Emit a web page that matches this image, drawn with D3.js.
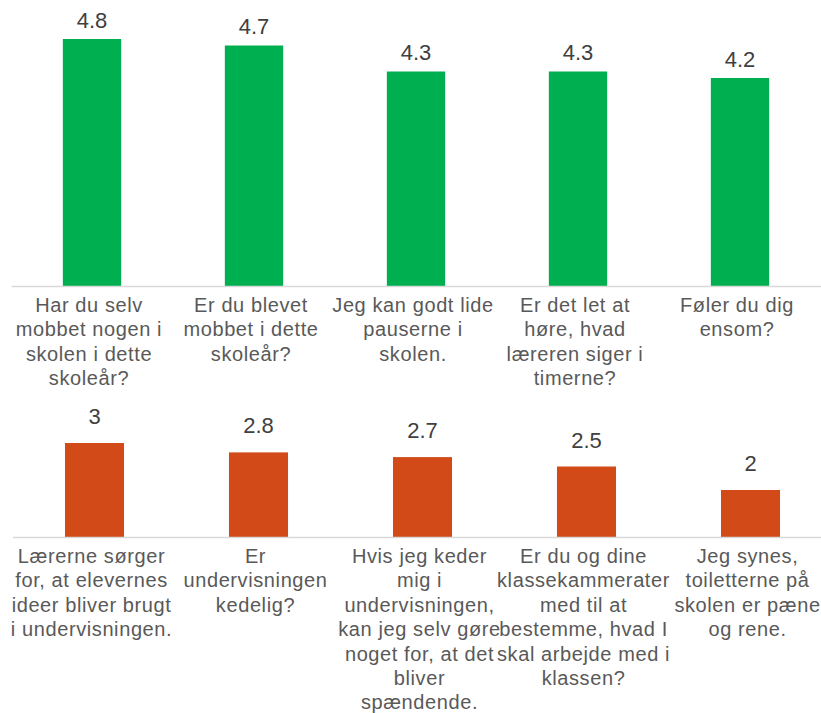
<!DOCTYPE html>
<html>
<head>
<meta charset="utf-8">
<script src="https://cdn.jsdelivr.net/npm/d3@7/dist/d3.min.js"></script>
<style>
  html, body { margin: 0; padding: 0; background: #fff; overflow: hidden; }
  svg { display: block; }
</style>
</head>
<body>
<div id="chart"></div>
<script>
(function(){
    // data
    var topCategories = [
        'Har du selv\nmobbet nogen i\nskolen i dette\nskoleår?',
        'Er du blevet\nmobbet i dette\nskoleår?',
        'Jeg kan godt lide\npauserne i\nskolen.',
        'Er det let at\nhøre, hvad\nlæreren siger i\ntimerne?',
        'Føler du dig\nensom?'
    ];
    var topValues = [4.8, 4.7, 4.3, 4.3, 4.2];

    var bottomCategories = [
        'Lærerne sørger\nfor, at elevernes\nideer bliver brugt\ni undervisningen.',
        'Er\nundervisningen\nkedelig?',
        'Hvis jeg keder\nmig i\nundervisningen,\nkan jeg selv gøre\nnoget for, at det\nbliver\nspændende.',
        'Er du og dine\nklassekammerater\nmed til at\nbestemme, hvad I\nskal arbejde med i\nklassen?',
        'Jeg synes,\ntoiletterne på\nskolen er pæne\nog rene.'
    ];
    var bottomValues = [3, 2.8, 2.7, 2.5, 2];

    // layout
    var WIDTH  = 821,
        HEIGHT = 713,
        FONT   = '"Liberation Sans", Arial, sans-serif',
        LINE_H = 24.4;

    var svg = d3.select('#chart').append('svg')
        .attr('width', WIDTH)
        .attr('height', HEIGHT);

    function drawPanel(cfg){
        var x = d3.scaleBand()
            .domain(d3.range(cfg.categories.length))
            .range(cfg.xRange)
            .paddingInner(0.64)
            .paddingOuter(0.32);

        var y = d3.scaleLinear()
            .domain(cfg.yDomain)
            .range(cfg.yRange);

        var g = svg.append('g');
        var data = cfg.values.map(function(v, i){ return {v: v, i: i}; });

        g.selectAll('rect')
            .data(data)
            .enter().append('rect')
            .attr('x', function(d){ return x(d.i); })
            .attr('y', function(d){ return y(d.v); })
            .attr('width', x.bandwidth())
            .attr('height', function(d){ return y(cfg.yDomain[0]) - y(d.v); })
            .attr('fill', cfg.color);

        // baseline axis
        var axis = d3.axisBottom(x).tickSize(0).tickFormat('');
        var ax = g.append('g')
            .attr('transform', 'translate(0,' + y(cfg.yDomain[0]) + ')')
            .call(axis);
        ax.select('.domain')
            .attr('stroke', '#d9d9d9')
            .attr('stroke-width', 1.5);

        // value labels
        g.selectAll('text.val')
            .data(data)
            .enter().append('text')
            .attr('class', 'val')
            .attr('x', function(d){ return x(d.i) + x.bandwidth() / 2; })
            .attr('y', function(d){ return y(d.v) - cfg.valueOffset; })
            .attr('text-anchor', 'middle')
            .attr('font-family', FONT)
            .attr('font-size', 22)
            .attr('fill', '#404040')
            .text(function(d){ return d3.format('~g')(d.v); });

        // category labels
        var labels = g.selectAll('text.cat')
            .data(cfg.categories)
            .enter().append('text')
            .attr('class', 'cat')
            .attr('text-anchor', 'middle')
            .attr('font-family', FONT)
            .attr('font-size', 20)
            .attr('letter-spacing', 0.6)
            .attr('fill', '#595959')
            .attr('transform', function(d, i){
                return 'translate(' + (x(i) + x.bandwidth() / 2 - 3) + ',' + (y(cfg.yDomain[0]) + 26) + ')';
            });

        labels.each(function(d){
            var t = d3.select(this);
            d.split('\n').forEach(function(line, k){
                t.append('tspan')
                    .attr('x', 0)
                    .attr('y', k * LINE_H)
                    .text(line);
            });
        });
    }

    drawPanel({
        categories: topCategories,
        values: topValues,
        color: '#00b050',
        xRange: [11, 821],
        yDomain: [1, 5],
        yRange: [286, 26],
        valueOffset: 11.5
    });

    drawPanel({
        categories: bottomCategories,
        values: bottomValues,
        color: '#d14a18',
        xRange: [12.5, 832.5],
        yDomain: [1, 4],
        yRange: [537, 396],
        valueOffset: 19
    });
})();
</script>
</body>
</html>
